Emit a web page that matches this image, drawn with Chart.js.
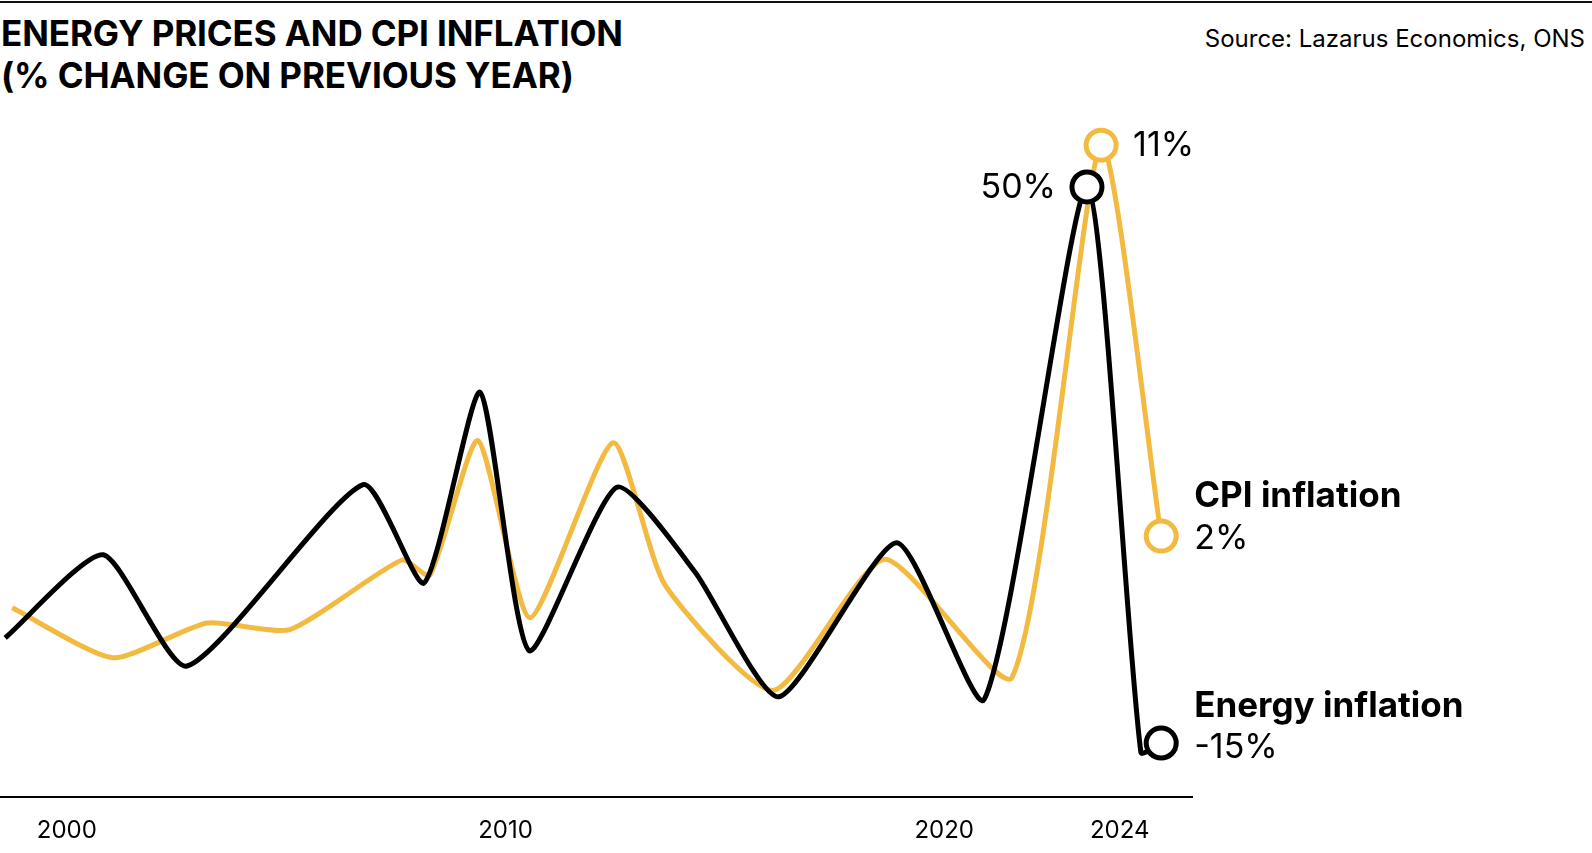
<!DOCTYPE html>
<html lang="en">
<head>
<meta charset="UTF-8">
<title>Energy prices and CPI inflation</title>
<script src="https://cdn.jsdelivr.net/npm/chart.js"></script>
<style>
  html, body { margin: 0; padding: 0; background: #fff; }
  body { width: 1592px; height: 853px; position: relative; overflow: hidden; font-family: Inter, "Noto Sans", sans-serif; }
  .rule { position: absolute; left: 0; top: 1px; width: 1592px; height: 2px; background: #111; }
  .title { position: absolute; left: 1px; top: 12px; font-weight: 700; font-size: 35px; line-height: 42px; letter-spacing: -0.1px; color: #000; }
  .source { position: absolute; right: 7px; top: 24px; font-size: 24px; color: #000; }
  #wrap { position: absolute; left: 0; top: 0; width: 1592px; height: 853px; }
</style>
</head>
<body>
<div class="rule"></div>
<div class="title">ENERGY PRICES AND CPI INFLATION<br>(% CHANGE ON PREVIOUS YEAR)</div>
<div class="source">Source: Lazarus Economics, ONS</div>
<div id="wrap"><canvas id="chart" width="1592" height="853"></canvas></div>
<script>
// values (x = decimal year)
var energyYears  = [1998.595, 2000.829, 2002.740, 2006.754, 2008.142, 2009.421, 2010.538, 2012.539, 2014.320, 2016.230, 2018.920, 2020.912, 2023.255, 2024.484, 2024.947];
var energyValues = [-2.7, 7.0, -6.0, 15.2, 3.7, 26.0, -4.2, 14.9, 5.0, -9.6, 8.4, -9.9, 50.0, -16.1, -15.0];

var cpiYears  = [1998.755, 2001.051, 2003.194, 2005.086, 2007.641, 2008.274, 2009.371, 2010.559, 2012.451, 2013.638, 2016.111, 2018.648, 2021.546, 2023.577, 2024.947];
var cpiValues = [0.35, -0.8, 0.0, -0.15, 1.45, 1.1, 4.2, 0.12, 4.15, 0.87, -1.55, 1.47, -1.25, 11.0, 2.0];

var tickYears = [2000, 2010, 2020, 2024];

var YELLOW = '#F3BA41';
var BLACK = '#000000';

function pts(xs, ys) {
  return xs.map(function (x, i) { return { x: x, y: ys[i] }; });
}

// which points get an open circle
var energyMarked = [12, energyValues.length - 1];
var cpiMarked = [13, cpiValues.length - 1];

function markerRadius(list) {
  return function (ctx) { return list.indexOf(ctx.dataIndex) >= 0 ? 15 : 0; };
}

var labelPlugin = {
  id: 'labels',
  afterDatasetsDraw: function (chart) {
    var ctx = chart.ctx;
    var e = chart.getDatasetMeta(0).data;
    var c = chart.getDatasetMeta(1).data;
    var ePeak = e[energyMarked[0]], eEnd = e[energyMarked[1]];
    var cPeak = c[cpiMarked[0]], cEnd = c[cpiMarked[1]];
    ctx.save();
    ctx.fillStyle = '#000';
    ctx.textBaseline = 'middle';
    ctx.font = '400 34px Inter';
    ctx.textAlign = 'left';
    ctx.fillText(cpiValues[cpiMarked[0]] + '%', cPeak.x + 32, cPeak.y + 1);
    ctx.textAlign = 'right';
    ctx.fillText(energyValues[energyMarked[0]] + '%', ePeak.x - 31, ePeak.y + 1);

    ctx.textAlign = 'left';
    ctx.textBaseline = 'alphabetic';
    ctx.font = '700 35px Inter';
    ctx.fillText('CPI inflation', cEnd.x + 33, cEnd.y - 29);
    ctx.fillText('Energy inflation', eEnd.x + 33, eEnd.y - 26);
    ctx.font = '400 34px Inter';
    ctx.fillText(cpiValues[cpiMarked[1]] + '%', cEnd.x + 33, cEnd.y + 13);
    ctx.fillText(energyValues[energyMarked[1]] + '%', eEnd.x + 33, eEnd.y + 15);
    ctx.restore();
  }
};

new Chart(document.getElementById('chart'), {
  type: 'line',
  data: {
    datasets: [
      {
        label: 'Energy inflation',
        data: pts(energyYears, energyValues),
        yAxisID: 'yEnergy',
        borderColor: BLACK,
        borderWidth: 5,
        tension: 0.2,
        pointRadius: markerRadius(energyMarked),
        pointBorderWidth: 5,
        pointBorderColor: BLACK,
        pointBackgroundColor: '#fff'
      },
      {
        label: 'CPI inflation',
        data: pts(cpiYears, cpiValues),
        yAxisID: 'yCpi',
        borderColor: YELLOW,
        borderWidth: 5,
        tension: 0.2,
        pointRadius: markerRadius(cpiMarked),
        pointBorderWidth: 5,
        pointBorderColor: YELLOW,
        pointBackgroundColor: '#fff'
      }
    ]
  },
  options: {
    responsive: false,
    animation: false,
    devicePixelRatio: 1,
    layout: { autoPadding: false, padding: { left: 0, right: 400, top: 100, bottom: 0 } },
    plugins: { legend: { display: false }, tooltip: { enabled: false } },
    elements: { point: { hoverRadius: 0 } },
    scales: {
      x: {
        type: 'linear',
        min: 1998.477,
        max: 2025.649,
        afterBuildTicks: function (s) { s.ticks = tickYears.map(function (v) { return { value: v }; }); },
        afterFit: function (s) { s.height = 56; s.paddingLeft = 0; s.paddingRight = 0; },
        grid: { display: false },
        border: { display: true, color: '#000', width: 2 },
        ticks: {
          color: '#000',
          font: { family: 'Inter', size: 24 },
          padding: 11,
          maxRotation: 0,
          autoSkip: false,
          callback: function (v) { return String(v); }
        }
      },
      yCpi: { display: false, min: -4.006, max: 12.04 },
      yEnergy: { display: false, min: -21.31, max: 60.17 }
    }
  },
  plugins: [labelPlugin]
});
</script>
</body>
</html>
